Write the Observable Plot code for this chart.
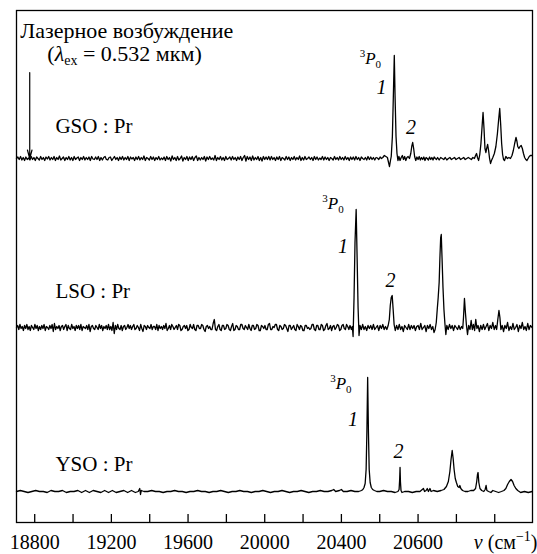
<!DOCTYPE html>
<html><head><meta charset="utf-8">
<script src="https://cdn.jsdelivr.net/npm/d3@7"></script>
<script src="https://cdn.jsdelivr.net/npm/@observablehq/plot@0.6"></script>
<style>
html,body{margin:0;padding:0;background:#fff}
#chart svg{display:block}
#chart svg text, #chart svg tspan{font-family:'Liberation Serif','Times New Roman',serif !important}
</style>
</head><body><div id="chart"></div><script>
// ---- data (wavenumber cm^-1, intensity arb. units) ----
const samples = ["GSO", "LSO", "YSO"];
const sampleNames = ["GSO : Pr", "LSO : Pr", "YSO : Pr"];
const baseLevel = {GSO: 364, LSO: 195, YSO: 31};

const gso = [
[18705,0],[18712,1.5],[18719,-1],[18726,2],[18733,-1.5],[18740,1],[18747,-2],[18754,1.5],[18761,-1],[18768,0.5],
[18775,-1.5],[18782,2],[18789,-1],[18796,1],[18803,-2],[18810,1.5],[18817,0],[18824,-1.5],[18831,2],[18838,-1],
[18845,1],[18852,-2],[18859,1.5],[18866,-0.5],[18873,2],[18880,-1.5],[18887,1],[18894,-1],[18901,2],[18908,-2],
[18915,1],[18922,-1],[18929,2.5],[18936,-1.5],[18943,0],[18950,1.5],[18957,-2],[18964,1],[18971,-1],[18978,2],
[18985,-1.5],[18992,1],[18999,-2],[19006,2],[19013,-1],[19020,0.5],[19027,1.5],[19034,-2],[19041,1],[19048,-1],
[19055,2],[19062,-1.5],[19069,1],[19076,-1],[19083,1.5],[19090,-2],[19097,2],[19104,-0.5],[19111,-1],[19118,1.5],
[19125,-1],[19132,2],[19139,-2],[19146,1],[19153,-1.5],[19160,1],[19167,2],[19174,-1],[19181,-1.5],[19188,1],
[19195,1.5],[19202,-2],[19209,0],[19216,2],[19223,-1],[19230,1],[19237,-2],[19244,1.5],[19251,-1],[19258,2],
[19265,-1.5],[19272,1],[19279,-1],[19286,2],[19293,-2],[19300,1.5],[19307,-0.5],[19314,1],[19321,-2],[19328,1.5],
[19335,-1],[19342,2],[19349,-1.5],[19356,1],[19363,-1],[19370,2.5],[19377,-2],[19384,1],[19391,0],[19398,-1.5],
[19405,2],[19412,-1],[19419,1.5],[19426,-2],[19433,1],[19440,-1],[19447,2],[19454,-1.5],[19461,0.5],[19468,-1],
[19475,1.5],[19482,-2],[19489,2],[19496,-1],[19503,1],[19510,-2.5],[19517,2.5],[19524,-1],[19531,1],[19538,-2],
[19545,2],[19552,-1.5],[19559,0],[19566,2.5],[19573,-2.5],[19580,1],[19587,-1],[19594,2],[19601,-2],[19608,1.5],
[19615,-1],[19622,2],[19629,-2],[19636,1],[19643,2.5],[19650,-2],[19657,1],[19664,-1.5],[19671,1],[19678,-1],
[19685,2],[19692,-2.5],[19699,1.5],[19706,-1],[19713,2],[19720,-1],[19727,0.5],[19734,-1.5],[19741,3],[19748,-2],
[19755,1],[19762,-1],[19769,2],[19776,-1.5],[19783,1],[19790,-2],[19797,2],[19804,-1],[19811,0],[19818,1.5],
[19825,-1.5],[19832,2],[19839,-1],[19846,1],[19853,-2],[19860,1.5],[19867,-1],[19874,2],[19881,-2],[19888,1],
[19895,3],[19902,-2.5],[19909,2],[19916,-1],[19923,1.5],[19930,-2],[19937,2.5],[19944,-1.5],[19951,1],[19958,-1],
[19965,2],[19972,-2],[19979,1],[19986,-2.5],[19993,2],[20000,-1],[20007,1.5],[20014,-1],[20021,2],[20028,-1.5],
[20035,2],[20042,-1],[20049,1],[20056,-2],[20063,1.5],[20070,-1],[20077,2],[20084,-2],[20091,1],[20098,0],
[20105,-1.5],[20112,2],[20119,-1],[20126,1.5],[20133,-2],[20140,1],[20147,-1],[20154,2],[20161,-1.5],[20168,1],
[20175,-1],[20182,2.5],[20189,-2],[20196,1],[20203,-1.5],[20210,2],[20217,-1],[20224,0],[20231,1.5],[20238,-1],
[20245,1],[20252,-2],[20259,2],[20266,-1],[20273,1.5],[20280,-1.5],[20287,0.5],[20294,-1],[20301,2],[20308,-1.5],
[20315,1.5],[20322,-1],[20329,1],[20336,-2],[20343,1],[20350,0],[20357,-1.5],[20364,2],[20371,-1],[20378,1],
[20385,-1.5],[20392,2],[20399,-1],[20406,1],[20413,-1.5],[20420,2],[20427,-1],[20434,1],[20441,-2],[20448,1.5],
[20455,-1],[20462,1.5],[20469,-1.5],[20476,2],[20483,-1],[20490,1],[20497,-2],[20504,1.5],[20511,0],[20518,-1],
[20525,1],[20532,-1.5],[20539,2],[20546,-1],[20553,1.5],[20560,-1],[20567,1],[20574,-1.5],[20581,1],[20588,0.5],
[20595,-1],[20602,1.5],[20609,0],[20616,1],
[20624,3],[20632,2],[20640,1],[20646,-4],[20651,-8],[20656,-2],[20660,2],[20666,22],[20671,62],[20676,103],
[20680,62],[20685,22],[20690,5],[20695,-2],[20700,2],[20706,-2],[20712,1],[20718,3],[20724,-1],[20730,2],
[20736,-2],[20742,1],[20748,2],[20755,0],[20762,5],[20767,12],[20772,16],[20777,10],[20782,2],[20788,-2],
[20794,1.5],[20800,-1],[20806,2],[20812,-1.5],[20818,1],[20824,-1],[20830,1.5],[20836,-2],[20842,1],[20848,0],
[20854,-1.5],[20860,1.5],[20866,-1],[20872,1],[20878,-1.5],[20884,1.5],[20890,0],[20896,-1],[20902,1],[20910,-1.5],
[20918,1],[20926,0],[20934,-1],[20942,1],[20950,-1.5],[20958,0],[20966,1],[20974,-1],[20982,0],[20990,1],
[20998,-1],[21006,0],[21014,1],[21022,-1],[21030,0],[21038,1],[21046,-1],[21054,0],[21062,1],[21070,0],
[21078,-1],[21086,1],[21094,0],[21100,3],[21105,5],[21110,1],[21116,-2],[21122,4],[21128,15],[21134,32],
[21139,46],[21144,30],[21149,10],[21154,6],[21158,10],[21163,14],[21168,8],[21173,0],[21178,-5],[21183,-2],
[21190,1],[21198,5],[21206,12],[21214,25],[21220,38],[21226,50],[21231,34],[21236,15],[21241,4],[21246,-1],
[21251,-2],[21258,2],[21266,0],[21274,1],[21282,0],[21290,3],[21297,8],[21304,15],[21311,21],[21316,17],
[21320,12],[21326,10],[21332,12],[21338,13],[21344,10],[21350,5],[21356,1],[21362,-1],[21368,-2],[21374,0],
[21380,2],[21386,3],[21395,3]];

const lso = [
[18705,0],[18711,2],[18717,-2],[18723,3],[18729,-1],[18735,1],[18741,-3],[18747,2],[18753,-1],[18759,3],
[18765,-2],[18771,1],[18777,-3],[18783,2],[18789,0],[18795,-2],[18801,3],[18807,-1],[18813,2],[18819,-3],
[18825,1],[18831,-2],[18837,2],[18843,-1],[18849,3],[18855,-3],[18861,1],[18867,0],[18873,-2],[18879,2],
[18885,-1],[18891,3],[18897,-4],[18903,4],[18909,-2],[18915,1],[18921,-1],[18927,2],[18933,-3],[18939,1],
[18945,2],[18951,-2],[18957,1],[18963,3],[18969,-3],[18975,2],[18981,-1],[18987,-2],[18993,3],[18999,-1],
[19005,1],[19011,-3],[19017,2],[19023,-1],[19029,2],[19035,-2],[19041,3],[19047,-3],[19053,1],[19059,0],
[19065,-1],[19071,2],[19077,-2],[19083,3],[19089,-4],[19095,1],[19101,2],[19107,-1],[19113,-2],[19119,2],
[19125,0],[19131,-2],[19137,3],[19143,-1],[19149,2],[19155,-3],[19161,1],[19167,-1],[19173,2],[19179,-2],
[19185,3],[19191,-2],[19197,1],[19203,-3],[19209,5],[19215,-6],[19221,2],[19227,-2],[19233,3],[19239,-1],
[19245,-2],[19251,2],[19257,-3],[19263,1],[19269,2],[19275,-2],[19281,0],[19287,3],[19293,-1],[19299,2],
[19305,-2],[19311,1],[19317,3],[19323,-2],[19329,-1],[19335,2],[19341,0],[19347,-3],[19353,3],[19359,-1],
[19365,-4],[19371,2],[19377,1],[19383,-2],[19389,2],[19395,0],[19401,-1],[19407,3],[19413,-2],[19419,1],
[19425,1],[19431,-2],[19437,3],[19443,-3],[19449,2],[19455,-1],[19461,1],[19467,-2],[19473,2],[19479,-1],
[19485,4],[19491,-3],[19497,-1],[19503,2],[19509,-2],[19515,3],[19521,1],[19527,-2],[19533,0],[19539,2],
[19545,-2],[19551,3],[19557,2],[19563,-3],[19569,-2],[19575,1],[19581,2],[19587,-1],[19593,2],[19599,-3],
[19605,-2],[19611,3],[19617,0],[19623,-1],[19629,3],[19635,-2],[19641,-3],[19647,2],[19653,2],[19659,-1],
[19665,-1],[19671,3],[19677,2],[19683,-2],[19689,-4],[19695,1],[19701,2],[19707,-1],[19713,1],[19719,-2],
[19725,-2],[19731,4],[19737,8],[19743,-2],[19749,-3],[19755,1],[19761,3],[19767,-2],[19773,-3],[19779,2],
[19785,2],[19791,-2],[19797,-1],[19803,3],[19809,2],[19815,-2],[19821,-3],[19827,1],[19833,4],[19839,-3],
[19845,-2],[19851,2],[19857,1],[19863,-2],[19869,-2],[19875,3],[19881,3],[19887,-1],[19893,-2],[19899,2],
[19905,0],[19911,-2],[19917,3],[19923,-1],[19929,-3],[19935,2],[19941,2],[19947,-2],[19953,-1],[19959,3],
[19965,2],[19971,-3],[19977,-3],[19983,2],[19989,1],[19995,-1],[20001,2],[20007,-2],[20013,-2],[20019,3],
[20025,4],[20031,-2],[20037,-2],[20043,1],[20049,0],[20055,3],[20061,3],[20067,-2],[20073,-3],[20079,2],
[20085,1],[20091,-2],[20097,-1],[20103,3],[20109,2],[20115,-1],[20121,-4],[20127,2],[20133,2],[20139,-2],
[20145,0],[20151,2],[20157,-2],[20163,-3],[20169,3],[20175,1],[20181,-2],[20187,2],[20193,1],[20199,-3],
[20205,-3],[20211,2],[20217,2],[20223,-1],[20229,0],[20235,-2],[20241,-1],[20247,3],[20253,3],[20259,-2],
[20265,-3],[20271,2],[20277,2],[20283,-2],[20289,-2],[20295,3],[20301,2],[20307,-3],[20313,-2],[20319,2],
[20325,4],[20331,-2],[20337,-1],[20343,2],[20349,-3],[20355,1],[20361,2],[20367,-2],[20373,0],[20379,3],
[20385,2],[20391,-3],[20397,-2],[20403,2],[20409,3],[20415,-1],[20421,-2],[20427,3],[20433,1],[20439,-2],
[20445,2],
[20452,-2],[20457,1],[20461,-9],[20466,30],[20471,85],[20477,118],[20482,70],[20487,20],[20492,-8],[20497,2],
[20504,-2],[20511,3],[20518,-2],[20525,1],[20532,-3],[20539,2],[20546,-1],[20553,2],[20560,-2],[20567,3],
[20574,-2],[20581,0],[20588,2],[20595,-3],[20602,2],[20609,-1],[20616,3],[20623,-2],[20630,1],[20637,-2],
[20644,2],[20650,8],[20655,22],[20660,30],[20665,32],[20670,18],[20675,3],[20681,-3],[20688,2],[20695,-2],
[20702,3],[20709,-2],[20716,1],[20723,-4],[20730,2],[20737,0],[20744,-2],[20751,3],[20758,-2],[20765,2],
[20772,-1],[20779,2],[20786,-3],[20793,1],[20800,2],[20807,-2],[20814,4],[20821,-2],[20828,0],[20835,2],
[20842,-4],[20849,2],[20856,-1],[20863,3],[20870,-2],[20877,1],[20883,-5],[20889,-2],[20895,5],[20900,18],
[20905,30],[20910,45],[20914,70],[20918,90],[20921,93],[20925,70],[20930,40],[20935,18],[20940,4],[20945,-7],
[20950,2],[20957,-2],[20964,3],[20971,-1],[20978,2],[20985,-3],[20992,2],[20999,0],[21006,-2],[21013,2],
[21020,-2],[21027,1],[21033,-1],[21037,10],[21042,29],[21047,15],[21052,3],[21058,-7],[21064,2],[21071,-2],
[21077,7],[21083,-2],[21089,3],[21095,-3],[21101,8],[21107,-1],[21113,2],[21120,-4],[21127,2],[21134,-2],
[21141,3],[21148,-2],[21155,1],[21162,4],[21169,-3],[21176,2],[21183,-1],[21190,5],[21197,-2],[21204,2],
[21210,-2],[21216,8],[21222,17],[21227,10],[21232,-2],[21239,2],[21246,-4],[21253,2],[21260,-1],[21267,5],
[21274,-3],[21281,1],[21288,-2],[21295,4],[21302,-2],[21309,0],[21316,3],[21323,-4],[21330,2],[21337,-1],
[21344,5],[21351,-2],[21358,1],[21365,-3],[21372,4],[21379,-2],[21386,2],[21395,0]];

const yso = [[18705,0],[18725,1],[18745,0],[18765,-1],[18785,0],[18805,1],[18825,0],[18845,0],[18865,-1],[18885,1],
[18905,0],[18925,0],[18945,1],[18965,-1],[18985,0],[19005,0],[19025,1],[19045,-1],[19065,1],[19085,-1],
[19105,1],[19125,0],[19145,-1],[19165,1],[19185,-1],[19205,1],[19225,-1],[19245,0],[19265,1],[19285,-1],
[19305,1],[19325,-1],[19340,0],[19348,3],[19352,-3],[19356,1],[19370,0],[19390,0],[19410,1],[19430,0],
[19450,0],[19470,-1],[19490,0],[19510,0],[19530,1],[19550,0],[19570,0],[19590,-1],[19610,0],[19630,0],
[19650,1],[19670,0],[19690,0],[19710,-1],[19730,0],[19750,0],[19770,1],[19790,0],[19810,-1],[19830,0],
[19850,0],[19870,1],[19890,0],[19910,0],[19930,-1],[19950,0],[19970,0],[19990,1],[20010,0],[20030,-1],
[20050,0],[20070,0],[20090,1],[20110,0],[20130,-1],[20150,0],[20170,0],[20190,1],[20210,0],[20230,-1],
[20250,0],[20270,0],[20290,1],[20310,0],[20330,0],[20350,1],[20360,2],[20370,0],[20390,1],[20400,2],
[20410,0],[20430,0],[20450,1],[20470,0],[20490,0],
[20505,1],[20512,2],[20518,4],[20524,8],[20529,22],[20533,60],[20537,114],[20541,60],[20545,22],[20550,9],
[20556,4],[20563,2],[20572,1],[20585,0],[20600,0],[20620,1],[20640,0],[20660,0],[20680,-1],[20695,0],
[20701,2],[20704,12],[20706,24],[20708,10],[20711,1],[20716,-1],[20730,0],[20750,0],[20770,-1],[20790,0],
[20810,0],[20822,2],[20828,3],[20834,0],[20842,1],[20848,3],[20854,0],[20862,3],[20868,0],[20880,1],
[20900,0],[20920,1],[20935,2],[20948,5],[20958,10],[20966,20],[20972,32],[20978,41],[20983,33],[20988,22],
[20994,13],[21000,9],[21007,5],[21014,4],[21018,6],[21023,3],[21032,1],[21045,0],[21060,0],[21075,1],
[21090,1],[21100,3],[21106,10],[21110,17],[21113,19],[21117,9],[21123,3],[21132,1],[21143,0],[21150,2],
[21155,6],[21159,1],[21168,0],[21180,-1],[21190,1],[21205,0],[21220,-1],[21235,0],[21248,1],[21258,3],
[21267,7],[21276,10],[21285,12],[21293,10],[21301,6],[21310,3],[21320,1],[21335,-1],[21355,0],[21375,-1],
[21395,0]];

const spectra = {GSO: gso, LSO: lso, YSO: yso};

// tick values and labels (as printed in the figure)
const tickMinor = [18800,19000,19200,19400,19600,19800,20000,20200,20400,20600,20800,21000,21200];
const tickValues = [18800,19200,19600,20000,20400,20800];
const tickLabels = ["18800","19200","19600","20000","20400","20600"];
const axisTitle = "ν (см⁻¹)";

// annotation texts, anchored in data units (wavenumber, intensity above the trace baseline)
const sampleLabelPos = [
  {sample: "GSO", nu: 18908, I: 26},
  {sample: "LSO", nu: 18908, I: 30},
  {sample: "YSO", nu: 18908, I: 21}
];
const peakLabels = [
  {sample: "GSO", text: "³P₀", nu: 20551, I: 95},
  {sample: "GSO", text: "1", nu: 20609, I: 65},
  {sample: "GSO", text: "2", nu: 20763, I: 25},
  {sample: "LSO", text: "³P₀", nu: 20356, I: 119},
  {sample: "LSO", text: "1", nu: 20408, I: 75},
  {sample: "LSO", text: "2", nu: 20656, I: 41},
  {sample: "YSO", text: "³P₀", nu: 20397, I: 103},
  {sample: "YSO", text: "1", nu: 20460, I: 66},
  {sample: "YSO", text: "2", nu: 20698, I: 34}
];
const excitationText = ["Лазерное возбуждение", "(λex = 0.532 мкм)"];
const excitationTextPos = [{nu: 18725, I: 121}, {nu: 18866, I: 98}];
const excitationArrow = {sample: "GSO", nu: 18774, I1: 86, I2: 0};

// ---- build ----
const rows = samples.flatMap(s => spectra[s].map(([nu, I]) => ({sample: s, nu, I})));
const Y = d => d.I + baseLevel[d.sample];
const serif = "Liberation Serif";

const plot = Plot.plot({
  width: 537, height: 554,
  marginLeft: 16, marginRight: 5, marginTop: 10, marginBottom: 32,
  x: {domain: [18705, 21397], label: null},
  y: {domain: [0, 512], axis: null},
  style: {fontFamily: serif, fontSize: "18px", background: "#fff", color: "#000", overflow: "visible"},
  marks: [
    Plot.line(rows, {x: "nu", y: Y, z: "sample", stroke: "#000", strokeWidth: 1.3, strokeLinejoin: "round"}),
    Plot.frame({stroke: "#000", strokeWidth: 1.3}),
    Plot.axisX({ticks: tickMinor, tickSize: -8, text: null, label: null, strokeWidth: 1.3}),
    Plot.axisX({ticks: tickValues, tickSize: 0, tickPadding: 12, label: null, fontSize: 20, fontFamily: serif,
      tickFormat: d => tickLabels[tickValues.indexOf(d)]}),
    Plot.text([axisTitle], {text: d => d, frameAnchor: "bottom-right", textAnchor: "end", lineAnchor: "bottom", dx: 5, dy: 26, fontSize: 20, fontFamily: serif}),
    Plot.text(sampleLabelPos, {x: "nu", y: Y, text: (d, i) => sampleNames[i], textAnchor: "start", lineAnchor: "bottom", fontSize: 21, fontFamily: serif}),
    Plot.text(peakLabels.filter(d => d.text !== "1" && d.text !== "2"), {x: "nu", y: Y, text: "text", textAnchor: "middle", lineAnchor: "bottom", fontSize: 17, fontFamily: serif}),
    Plot.text(peakLabels.filter(d => d.text === "1" || d.text === "2"), {x: "nu", y: Y, text: "text", textAnchor: "middle", lineAnchor: "bottom", fontSize: 20, fontStyle: "italic", fontFamily: serif}),
    Plot.text(excitationTextPos, {x: "nu", y: d => d.I + baseLevel.GSO, text: (d, i) => excitationText[i], textAnchor: "start", lineAnchor: "bottom", fontSize: 22, fontFamily: serif}),
    Plot.arrow([excitationArrow], {x1: "nu", x2: "nu", y1: d => d.I1 + baseLevel[d.sample], y2: d => d.I2 + baseLevel[d.sample], stroke: "#000", strokeWidth: 1.2, headAngle: 30, headLength: 11})
  ]
});
document.getElementById("chart").append(plot);

// rich text (superscripts, subscripts, italics)
function rich(el, parts) {
  const t = d3.select(el); t.text(null);
  for (const [str, o] of parts) {
    const ts = t.append("tspan").text(str);
    if (o.size) ts.attr("font-size", o.size);
    if (o.italic) ts.attr("font-style", "italic");
    if (o.dy) ts.attr("dy", o.dy);
  }
}
d3.select(plot).selectAll("text").each(function() {
  const s = this.textContent;
  if (s === "³P₀") rich(this, [["3", {size: 11, dy: -7}], ["P", {italic: true, dy: 7}], ["0", {size: 11, dy: 4}]]);
  else if (s === "(λex = 0.532 мкм)") rich(this, [["(", {}], ["λ", {italic: true}], ["ex", {size: 14, dy: 4}], [" = 0.532 мкм)", {dy: -4}]]);
  else if (s === axisTitle) rich(this, [["ν", {italic: true}], [" (см", {}], ["−1", {size: 14, dy: -8}], [")", {dy: 8}]]);
});
</script></body></html>
